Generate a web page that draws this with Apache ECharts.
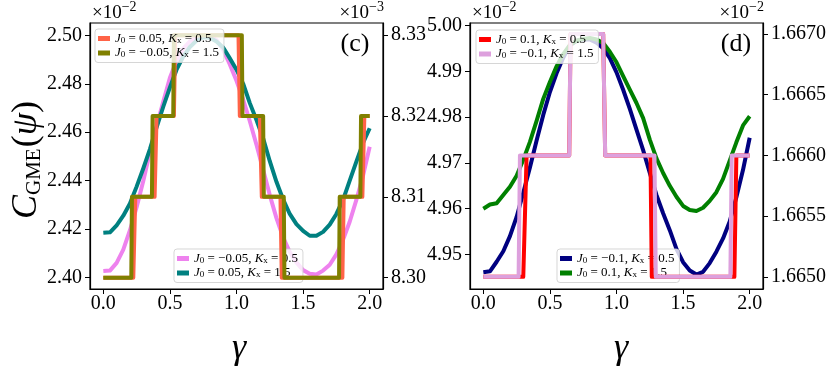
<!DOCTYPE html>
<html>
<head>
<meta charset="utf-8">
<script src="https://cdn.jsdelivr.net/npm/echarts@6/dist/echarts.min.js"></script>
<style>
html,body{margin:0;padding:0;background:#fff;}
#chart{width:830px;height:366px;}
</style>
</head>
<body>
<div id="chart"></div>
<script>
// gamma grid of the smooth curves
const gamma = [0,0.05,0.1,0.15,0.2,0.25,0.3,0.35,0.4,0.45,0.5,0.55,0.6,0.65,0.7,0.75,0.8,0.85,0.9,0.95,
  1,1.05,1.1,1.15,1.2,1.25,1.3,1.35,1.4,1.45,1.5,1.55,1.6,1.65,1.7,1.75,1.8,1.85,1.9,1.95,2];

// panel (c), left axis (x10^-2)
const violetC = [2.4026,2.4028,2.4060,2.4115,2.4195,2.4290,2.4398,2.4518,2.4625,2.4725,2.4825,2.4895,2.4945,2.4975,2.4990,2.4998,2.4998,2.4980,2.4940,2.4880,
  2.4812,2.4735,2.4645,2.4548,2.4445,2.4340,2.4245,2.4165,2.4105,2.4062,2.4030,2.4015,2.4012,2.4028,2.4052,2.4095,2.4155,2.4230,2.4320,2.4420,2.4540];
const tealC = [2.4184,2.4186,2.4215,2.4255,2.4305,2.4375,2.4450,2.4530,2.4620,2.4705,2.4785,2.4858,2.4912,2.4952,2.4978,2.4992,2.4990,2.4975,2.4950,2.4905,
  2.4858,2.4800,2.4720,2.4650,2.4575,2.4480,2.4395,2.4322,2.4262,2.4220,2.4192,2.4172,2.4172,2.4188,2.4218,2.4262,2.4320,2.4400,2.4478,2.4555,2.4616];

// panel (c), right axis steps (x10^-3)
const tomatoX = [0,0.225,0.24,0.385,0.40,0.53,0.54,1.015,1.025,1.175,1.19,1.33,1.34,1.795,1.805,1.945,1.96,2];
const tomatoY = [8.30,8.30,8.31,8.31,8.32,8.32,8.33,8.33,8.32,8.32,8.31,8.31,8.30,8.30,8.31,8.31,8.32,8.32];
const oliveX = [0,0.21,0.215,0.365,0.37,0.525,0.53,1.04,1.045,1.2,1.205,1.355,1.36,1.77,1.775,1.93,1.935,2];
const oliveY = [8.30,8.30,8.31,8.31,8.32,8.32,8.33,8.33,8.32,8.32,8.31,8.31,8.30,8.30,8.31,8.31,8.32,8.32];

// panel (d), left axis (x10^-2)
const navyD = [4.9461,4.9463,4.9484,4.9507,4.9540,4.9582,4.9635,4.9690,4.9749,4.9805,4.9855,4.9896,4.9930,4.9957,4.9967,4.9970,4.9970,4.9963,4.9951,4.9929,
  4.9898,4.9860,4.9818,4.9773,4.9728,4.9678,4.9630,4.9590,4.9553,4.9512,4.9483,4.9465,4.9456,4.9462,4.9481,4.9506,4.9535,4.9572,4.9625,4.9685,4.9755];
const greenD = [4.9600,4.9609,4.9612,4.9630,4.9648,4.9672,4.9707,4.9746,4.9792,4.9840,4.9877,4.9911,4.9938,4.9958,4.9967,4.9971,4.9973,4.9970,4.9962,4.9943,
  4.9920,4.9890,4.9860,4.9831,4.9798,4.9751,4.9710,4.9678,4.9650,4.9626,4.9606,4.9597,4.9595,4.9602,4.9617,4.9636,4.9665,4.9705,4.9745,4.9782,4.9802];

// panel (d), right axis steps (x10^-2)
const redX = [0,0.30,0.325,0.645,0.655,0.90,0.915,1.255,1.265,1.885,1.90,2];
const redY = [1.6650,1.6650,1.6660,1.6660,1.6670,1.6670,1.6660,1.6660,1.6650,1.6650,1.6660,1.6660];
const plumX = [0,0.265,0.275,0.645,0.655,0.90,0.915,1.285,1.295,1.855,1.865,2];
const plumY = [1.6650,1.6650,1.6660,1.6660,1.6670,1.6670,1.6660,1.6660,1.6650,1.6650,1.6660,1.6660];

// ticks
const xTicks = [0,0.5,1,1.5,2];
const cLeftTicks = [2.40,2.42,2.44,2.46,2.48,2.50];
const cRightTicks = [8.30,8.31,8.32,8.33];
const dLeftTicks = [4.95,4.96,4.97,4.98,4.99,5.00];
const dRightTicks = [1.6650,1.6655,1.6660,1.6665,1.6670];

// legend texts: [J0, Kx]
const legendText = {
  'c-tomato': ['0.05','0.5'],
  'c-olive': ['\u22120.05','1.5'],
  'c-violet': ['\u22120.05','0.5'],
  'c-teal': ['0.05','1.5'],
  'd-red': ['0.1','0.5'],
  'd-plum': ['\u22120.1','1.5'],
  'd-navy': ['\u22120.1','0.5'],
  'd-green': ['0.1','1.5']
};

const serif = 'Liberation Serif';
const chart = echarts.init(document.getElementById('chart'));

const pair = (xs, ys) => xs.map((x, i) => [x, ys[i]]);

function line(name, color, xi, yi, data, z) {
  return {
    name: name, type: 'line', xAxisIndex: xi, yAxisIndex: yi, data: data,
    symbol: 'none', color: color, z: z, animation: false,
    lineStyle: {width: 4, color: color, join: 'round', cap: 'butt'}
  };
}

function xAxis(grid) {
  return {
    type: 'value', gridIndex: grid, min: -0.1, max: 2.1,
    splitLine: {show: false},
    axisLine: {show: true, onZero: false, lineStyle: {color: '#000', width: 1.2}},
    axisTick: {show: true, length: 5, customValues: xTicks, lineStyle: {color: '#000', width: 1}},
    axisLabel: {customValues: xTicks, formatter: v => v.toFixed(1), margin: 5,
      color: '#000', fontFamily: serif, fontSize: 20}
  };
}

function yAxis(grid, pos, min, max, ticks, digits) {
  return {
    type: 'value', gridIndex: grid, position: pos, min: min, max: max,
    splitLine: {show: false},
    axisLine: {show: true, onZero: false, lineStyle: {color: '#000', width: 1.2}},
    axisTick: {show: true, length: 5, customValues: ticks, lineStyle: {color: '#000', width: 1}},
    axisLabel: {customValues: ticks, formatter: v => v.toFixed(digits), margin: 8,
      color: '#000', fontFamily: serif, fontSize: 20}
  };
}

const legendRich = {
  i: {fontFamily: serif, fontStyle: 'italic', fontSize: 13, color: '#000'},
  n: {fontFamily: serif, fontSize: 13, color: '#000'},
  s: {fontFamily: serif, fontSize: 9, color: '#000', verticalAlign: 'bottom', padding: [5, 0, 0, 0]}
};

function legend(names, left, top, z) {
  return {
    data: names, orient: 'vertical', left: left, top: top, z: z,
    icon: 'rect', itemWidth: 12, itemHeight: 5, itemGap: 1.5,
    padding: [3, 5, 3, 3],
    backgroundColor: 'rgba(255,255,255,0.8)',
    borderColor: 'rgba(204,204,204,0.8)', borderWidth: 1, borderRadius: 3,
    formatter: function (name) {
      const t = legendText[name];
      return '{i|J}{s|0}{n| = ' + t[0] + ', }{i|K}{s|x}{n| = ' + t[1] + '}';
    },
    textStyle: {fontFamily: serif, fontSize: 13, lineHeight: 13, rich: legendRich}
  };
}

function sci(x, y, exp, align) {
  return {
    type: 'text', x: x, y: y, z: 10,
    style: {
      text: '{a|\u00d710}{b|\u2212' + exp + '}', align: align, verticalAlign: 'top',
      rich: {
        a: {fontFamily: serif, fontSize: 19, color: '#000', verticalAlign: 'bottom', padding: [4, 0, 0, 0]},
        b: {fontFamily: serif, fontSize: 14, color: '#000', verticalAlign: 'top'}
      }
    }
  };
}

function plainText(text, x, y, size, italic) {
  return {
    type: 'text', x: x, y: y, z: 10,
    style: {text: text, align: 'center', verticalAlign: 'middle', fill: '#000',
      fontFamily: serif, fontSize: size, fontStyle: italic ? 'italic' : 'normal'}
  };
}

const option = {
  animation: false,
  backgroundColor: '#fff',
  grid: [
    {left: 90, top: 23, width: 293, height: 266, show: true, borderColor: '#000', borderWidth: 1.2},
    {left: 470, top: 23, width: 293, height: 266, show: true, borderColor: '#000', borderWidth: 1.2}
  ],
  xAxis: [xAxis(0), xAxis(1)],
  yAxis: [
    yAxis(0, 'left', 2.3952, 2.5051, cLeftTicks, 2),
    yAxis(0, 'right', 8.2986, 8.3315, cRightTicks, 2),
    yAxis(1, 'left', 4.94244, 5.00059, dLeftTicks, 2),
    yAxis(1, 'right', 1.66490, 1.66709, dRightTicks, 4)
  ],
  legend: [
    legend(['c-violet', 'c-teal'], 174, 249, 2),
    legend(['c-tomato', 'c-olive'], 95, 29, 5),
    legend(['d-navy', 'd-green'], 557, 249, 2),
    legend(['d-red', 'd-plum'], 476, 30, 5)
  ],
  series: [
    line('c-violet', '#EE82EE', 0, 0, pair(gamma, violetC), 1),
    line('c-teal', '#008080', 0, 0, pair(gamma, tealC), 1),
    line('c-tomato', '#FF6347', 0, 1, pair(tomatoX, tomatoY), 3),
    line('c-olive', '#808000', 0, 1, pair(oliveX, oliveY), 3),
    line('d-navy', '#000080', 1, 2, pair(gamma, navyD), 1),
    line('d-green', '#008000', 1, 2, pair(gamma, greenD), 1),
    line('d-red', '#FF0000', 1, 3, pair(redX, redY), 3),
    line('d-plum', '#DDA0DD', 1, 3, pair(plumX, plumY), 3)
  ],
  graphic: [
    sci(92, 0, '2', 'left'),
    sci(384, 0, '3', 'right'),
    sci(472, 0, '2', 'left'),
    sci(764, 0, '2', 'right'),
    plainText('(c)', 355, 44, 26, false),
    plainText('(d)', 736, 44, 26, false),
    plainText('\u03b3', 239, 349, 36, true),
    plainText('\u03b3', 621, 349, 36, true),
    {
      type: 'text', x: 27, y: 160, rotation: Math.PI / 2, z: 10,
      style: {
        text: '{c|C}{s|GME}{p|(}{c|\u03c8}{p|)}', align: 'center', verticalAlign: 'middle',
        rich: {
          c: {fontFamily: serif, fontStyle: 'italic', fontSize: 36, color: '#000'},
          p: {fontFamily: serif, fontSize: 36, color: '#000'},
          s: {fontFamily: serif, fontSize: 21, color: '#000', verticalAlign: 'bottom', padding: [10, 1, 0, 0]}
        }
      }
    }
  ]
};

chart.setOption(option);
</script>
</body>
</html>
